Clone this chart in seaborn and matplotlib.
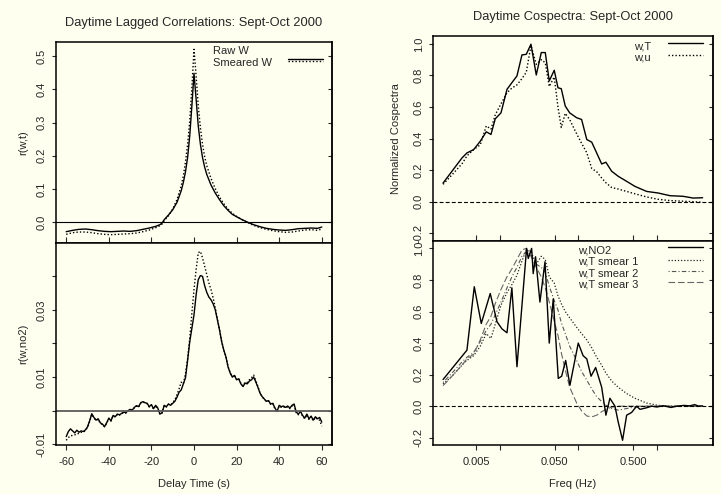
import numpy as np
import pandas as pd
import matplotlib
matplotlib.use("Agg")
import matplotlib.pyplot as plt
import seaborn as sns

# ---------------- data ----------------
# Top-left: lagged correlation r(w,t)
lag_t = [-60, -57, -54, -51, -48, -45, -42, -39, -36, -33, -30, -27, -24, -21, -18, -16, -15,
         -14, -12, -10, -8, -6, -5, -4, -3, -2, -1, 0, 1, 2, 3, 4, 5, 6, 8, 10, 12, 14, 16, 18,
         20, 22, 25, 28, 31, 34, 37, 40, 43, 46, 49, 52, 55, 58, 60]
raw_wt = [-0.028, -0.024, -0.021, -0.020, -0.022, -0.025, -0.027, -0.028, -0.027, -0.026, -0.027,
          -0.025, -0.021, -0.017, -0.012, -0.007, -0.002, 0.008, 0.022, 0.038, 0.060, 0.095, 0.120,
          0.152, 0.195, 0.260, 0.350, 0.448, 0.370, 0.290, 0.235, 0.195, 0.166, 0.144, 0.112, 0.088,
          0.068, 0.050, 0.036, 0.024, 0.017, 0.010, 0.001, -0.007, -0.013, -0.018, -0.021, -0.023,
          -0.024, -0.022, -0.019, -0.018, -0.017, -0.018, -0.014]
smear_wt = [-0.036, -0.031, -0.029, -0.029, -0.031, -0.034, -0.036, -0.037, -0.036, -0.035, -0.034,
            -0.032, -0.028, -0.023, -0.016, -0.010, -0.005, 0.005, 0.020, 0.040, 0.068, 0.110, 0.140,
            0.182, 0.235, 0.305, 0.405, 0.520, 0.440, 0.350, 0.285, 0.235, 0.197, 0.170, 0.132, 0.101,
            0.076, 0.056, 0.040, 0.027, 0.018, 0.010, 0.000, -0.009, -0.016, -0.021, -0.025, -0.028,
            -0.030, -0.029, -0.026, -0.023, -0.022, -0.024, -0.020]

# Bottom-left: lagged correlation r(w,no2), lags -60..60 s
lag_n = list(range(-60, 61))
raw_no2 = [-0.0077, -0.0062, -0.0054, -0.0060, -0.0066, -0.0058, -0.0064, -0.0060, -0.0062, -0.0057,
           -0.0048, -0.0030, -0.0009, -0.0020, -0.0028, -0.0024, -0.0036, -0.0040, -0.0047, -0.0036,
           -0.0022, -0.0030, -0.0014, -0.0018, -0.0010, -0.0012, -0.0008, -0.0004, -0.0006, 0.0000,
           0.0004, 0.0002, 0.0010, 0.0015, 0.0012, 0.0024, 0.0027, 0.0024, 0.0022, 0.0012,
           0.0018, 0.0006, 0.0016, 0.0008, -0.0010, -0.0006, 0.0016, 0.0012, 0.0020, 0.0016,
           0.0022, 0.0028, 0.0040, 0.0055, 0.0062, 0.0080, 0.0098, 0.0150, 0.0205, 0.0245,
           0.0285, 0.0345, 0.0390, 0.0402, 0.0400, 0.0372, 0.0352, 0.0338, 0.0330, 0.0318,
           0.0300, 0.0270, 0.0240, 0.0205, 0.0180, 0.0160, 0.0130, 0.0112, 0.0100, 0.0105,
           0.0092, 0.0095, 0.0080, 0.0072, 0.0082, 0.0080, 0.0088, 0.0092, 0.0100, 0.0086,
           0.0070, 0.0052, 0.0042, 0.0035, 0.0028, 0.0030, 0.0020, 0.0022, 0.0008, -0.0002,
           0.0016, 0.0012, 0.0014, 0.0010, 0.0014, 0.0008, 0.0016, 0.0020, -0.0004, -0.0010,
           -0.0002, -0.0014, -0.0022, -0.0010, -0.0024, -0.0016, -0.0028, -0.0018, -0.0024, -0.0020,
           -0.0034]
smear_no2 = [-0.0088, -0.0080, -0.0074, -0.0074, -0.0072, -0.0068, -0.0068, -0.0064, -0.0064, -0.0059,
             -0.0050, -0.0032, -0.0011, -0.0021, -0.0029, -0.0025, -0.0037, -0.0041, -0.0048, -0.0037,
             -0.0023, -0.0031, -0.0015, -0.0019, -0.0011, -0.0013, -0.0009, -0.0005, -0.0007, -0.0001,
             0.0003, 0.0001, 0.0009, 0.0014, 0.0011, 0.0023, 0.0026, 0.0023, 0.0021, 0.0011,
             0.0017, 0.0005, 0.0015, 0.0007, -0.0011, -0.0007, 0.0015, 0.0011, 0.0019, 0.0017,
             0.0024, 0.0032, 0.0048, 0.0065, 0.0085, 0.0080, 0.0110, 0.0155, 0.0215, 0.0290,
             0.0360, 0.0420, 0.0470, 0.0474, 0.0455, 0.0430, 0.0405, 0.0380, 0.0360, 0.0335,
             0.0305, 0.0272, 0.0241, 0.0206, 0.0181, 0.0161, 0.0131, 0.0113, 0.0101, 0.0106,
             0.0093, 0.0096, 0.0081, 0.0074, 0.0085, 0.0084, 0.0092, 0.0098, 0.0106, 0.0090,
             0.0072, 0.0053, 0.0042, 0.0034, 0.0027, 0.0029, 0.0019, 0.0021, 0.0006, -0.0004,
             0.0014, 0.0010, 0.0012, 0.0008, 0.0012, 0.0006, 0.0014, 0.0018, -0.0006, -0.0012,
             -0.0004, -0.0016, -0.0024, -0.0012, -0.0026, -0.0018, -0.0030, -0.0020, -0.0026, -0.0028,
             -0.0046]

# Top-right: normalized cospectra
freq_top = [0.00191, 0.00248, 0.00332, 0.00384, 0.00467, 0.00567, 0.00676, 0.00776, 0.00879, 0.0104,
            0.0124, 0.0143, 0.0166, 0.0192, 0.0218, 0.0250, 0.0292, 0.0338, 0.0380, 0.0427,
            0.0494, 0.0551, 0.0607, 0.0682, 0.0776, 0.0952, 0.110, 0.128, 0.148, 0.171,
            0.198, 0.224, 0.265, 0.321, 0.411, 0.524, 0.738, 1.036, 1.458, 2.15, 2.88, 3.80]
cosp_wT = [0.118, 0.193, 0.277, 0.309, 0.330, 0.383, 0.443, 0.426, 0.525, 0.563,
           0.712, 0.754, 0.797, 0.930, 0.934, 0.998, 0.803, 0.945, 0.945, 0.765,
           0.833, 0.722, 0.716, 0.606, 0.563, 0.532, 0.521, 0.394, 0.377, 0.309,
           0.239, 0.250, 0.193, 0.161, 0.129, 0.097, 0.065, 0.055, 0.038, 0.034, 0.023, 0.025]
cosp_wu = [0.110, 0.170, 0.240, 0.290, 0.330, 0.360, 0.480, 0.460, 0.550, 0.620,
           0.690, 0.720, 0.740, 0.780, 0.820, 0.990, 0.870, 0.900, 0.880, 0.730,
           0.790, 0.600, 0.470, 0.560, 0.520, 0.430, 0.370, 0.310, 0.210, 0.190,
           0.150, 0.120, 0.090, 0.080, 0.065, 0.050, 0.030, 0.015, 0.007, 0.003, 0.000, -0.004]

# Bottom-right: w,NO2 cospectrum and smeared w,T cospectra
freq_no2 = [0.00191, 0.00384, 0.00476, 0.00584, 0.00759, 0.00926, 0.0107, 0.0124, 0.0143, 0.0166,
            0.0220, 0.0231, 0.0255, 0.0267, 0.0286, 0.0325, 0.0377, 0.0427, 0.0480, 0.0556,
            0.0614, 0.0690, 0.0782, 0.0998, 0.115, 0.128, 0.145, 0.166, 0.198, 0.224,
            0.252, 0.292, 0.321, 0.365, 0.411, 0.475, 0.551, 0.607, 0.738, 0.85, 1.0,
            1.2, 1.5, 1.8, 2.2, 2.6, 3.0, 3.4, 3.8]
cosp_no2 = [0.169, 0.355, 0.757, 0.524, 0.714, 0.535, 0.490, 0.465, 0.750, 0.250,
            1.000, 0.936, 1.000, 0.840, 0.947, 0.660, 0.915, 0.400, 0.680, 0.176,
            0.190, 0.290, 0.133, 0.400, 0.320, 0.300, 0.190, 0.245, 0.120, -0.057,
            0.050, 0.000, -0.100, -0.216, -0.057, -0.040, 0.000, -0.020, -0.010, 0.000, -0.005,
            0.003, -0.008, 0.000, 0.005, 0.002, 0.010, 0.000, 0.002]
cosp_smear1 = [0.140, 0.190, 0.260, 0.290, 0.320, 0.380, 0.460, 0.430, 0.520, 0.640,
               0.720, 0.770, 0.830, 0.920, 0.990, 0.980, 0.900, 0.950, 0.930, 0.820,
               0.780, 0.700, 0.650, 0.600, 0.560, 0.500, 0.460, 0.420, 0.370, 0.310,
               0.260, 0.210, 0.160, 0.120, 0.080, 0.050, 0.020, 0.005, 0.000, 0.000, 0.000, 0.000]
cosp_smear2 = [0.150, 0.210, 0.280, 0.310, 0.340, 0.410, 0.480, 0.520, 0.580, 0.660,
               0.750, 0.820, 0.880, 0.950, 0.980, 0.960, 0.900, 0.880, 0.850, 0.760,
               0.670, 0.610, 0.530, 0.460, 0.380, 0.290, 0.220, 0.165, 0.110, 0.060,
               0.030, 0.006, -0.015, -0.025, -0.015, -0.005, 0.000, 0.000, 0.000, 0.000, 0.000, 0.000]
cosp_smear3 = [0.130, 0.190, 0.260, 0.300, 0.330, 0.420, 0.520, 0.570, 0.650, 0.740,
               0.820, 0.870, 0.930, 0.990, 1.000, 0.950, 0.880, 0.820, 0.750, 0.660,
               0.540, 0.450, 0.340, 0.230, 0.120, 0.020, -0.030, -0.062, -0.068, -0.057,
               -0.035, -0.020, -0.006, 0.000, 0.000, 0.000, 0.000, 0.000, 0.000, 0.000, 0.000, 0.000]

# ---------------- style ----------------
sns.set_style("ticks")
plt.rcParams['font.family'] = ['Liberation Sans', 'DejaVu Sans']
plt.rcParams['font.size'] = 8
BG = '#FFFFF0'
plt.rcParams['axes.facecolor'] = BG
plt.rcParams['figure.facecolor'] = BG

W, H = 721, 494
fig = plt.figure(figsize=(W / 100, H / 100), dpi=100)


def add_ax(x0, y0, x1, y1):
    return fig.add_axes([x0 / W, 1 - y1 / H, (x1 - x0) / W, (y1 - y0) / H])


ax_tl = add_ax(56, 42, 332, 243)
ax_bl = add_ax(56, 243, 332, 445)
ax_tr = add_ax(432.7, 36, 712.7, 240.5)
ax_br = add_ax(432.7, 240.5, 712.7, 445)

DOT = (0, (1, 1.5))
DASHDOT = (0, (1, 2, 4, 2))
LONGDASH = (0, (6, 2.5))
ZDASH = (0, (3.5, 2))


def line(ax, x, y, **kw):
    df = pd.DataFrame({'x': x, 'y': y})
    sns.lineplot(data=df, x='x', y='y', ax=ax, estimator=None, sort=False, legend=False, **kw)


# top-left
line(ax_tl, lag_t, raw_wt, color='black', lw=1.0)
line(ax_tl, lag_t, smear_wt, color='black', lw=1.0, linestyle=DOT)
ax_tl.axhline(0, color='black', lw=0.8)
# bottom-left
line(ax_bl, lag_n, smear_no2, color='black', lw=1.0, linestyle=DOT)
line(ax_bl, lag_n, raw_no2, color='black', lw=1.0)
ax_bl.axhline(0, color='#5a5a5a', lw=1.3)
# top-right
line(ax_tr, freq_top, cosp_wT, color='black', lw=1.0)
line(ax_tr, freq_top, cosp_wu, color='black', lw=1.0, linestyle=DOT)
ax_tr.axhline(0, color='black', lw=0.8, linestyle=ZDASH)
# bottom-right
line(ax_br, freq_top, cosp_smear1, color='#222222', lw=0.9, linestyle=DOT)
line(ax_br, freq_top, cosp_smear2, color='#555555', lw=0.8, linestyle=DASHDOT)
line(ax_br, freq_top, cosp_smear3, color='#666666', lw=0.8, linestyle=LONGDASH)
line(ax_br, freq_no2, cosp_no2, color='black', lw=1.0)
ax_br.axhline(0, color='black', lw=0.8, linestyle=ZDASH)

# limits & scales
for ax in (ax_tl, ax_bl):
    ax.set_xlim(-64.8, 64.8)
    ax.set_xticks([-60, -40, -20, 0, 20, 40, 60])
ax_tl.set_ylim(-0.062, 0.542)
ax_bl.set_ylim(-0.0102, 0.0499)
for ax in (ax_tr, ax_br):
    ax.set_xscale('log')
    ax.set_xlim(0.00141, 5.1)
    ax.set_ylim(-0.246, 1.05)
    ax.set_xticks([0.005, 0.01, 0.05, 0.1, 0.5, 1.0])
    ax.minorticks_off()

ax_tl.set_yticks([0.0, 0.1, 0.2, 0.3, 0.4, 0.5])
ax_tl.set_yticklabels(['0.0', '0.1', '0.2', '0.3', '0.4', '0.5'])
bl_ticks = [-0.01, 0.0, 0.01, 0.02, 0.03, 0.04]
ax_bl.set_yticks(bl_ticks)
ax_bl.set_yticklabels(['-0.01', '', '0.01', '', '0.03', ''])
r_ticks = [-0.2, 0.0, 0.2, 0.4, 0.6, 0.8, 1.0]
r_labels = ['-0.2', '0.0', '0.2', '0.4', '0.6', '0.8', '1.0']
for ax in (ax_tr, ax_br):
    ax.set_yticks(r_ticks)
    ax.set_yticklabels(r_labels)
ax_bl.set_xticklabels(['-60', '-40', '-20', '0', '20', '40', '60'])
ax_br.set_xticklabels(['0.005', '', '0.050', '', '0.500', ''])
ax_br.minorticks_off()

for ax in (ax_tl, ax_bl, ax_tr, ax_br):
    for s in ax.spines.values():
        s.set_linewidth(1.1)
        s.set_color('black')
    ax.tick_params(axis='y', direction='out', length=3, width=0.8, pad=3.5, labelsize=8)
    for lab in ax.get_yticklabels():
        lab.set_rotation(90)
        lab.set_va('center')
    sec = ax.secondary_yaxis('right')
    sec.set_yticks(ax.get_yticks())
    sec.tick_params(axis='y', direction='in', length=3, width=0.8, labelright=False)
    sec.spines['right'].set_linewidth(1.1)
    ax.set_xlabel('')
    ax.set_ylabel('')

for ax in (ax_tl, ax_tr):
    ax.tick_params(axis='x', direction='inout', length=8, width=0.8, labelbottom=False)
for ax in (ax_bl, ax_br):
    ax.tick_params(axis='x', direction='out', length=3.5, width=0.8, pad=5, labelsize=8)

ax_tl.set_ylabel('r(w,t)', fontsize=8, labelpad=6)
ax_bl.set_ylabel('r(w,no2)', fontsize=8, labelpad=6)
ax_tr.set_ylabel('Normalized Cospectra', fontsize=8, labelpad=9)
ax_bl.set_xlabel('Delay Time (s)', fontsize=8, labelpad=9)
ax_br.set_xlabel('Freq (Hz)', fontsize=8, labelpad=9)

ax_tl.set_title('Daytime Lagged Correlations: Sept-Oct 2000', fontsize=9.3, pad=11.5)
ax_tr.set_title('Daytime Cospectra: Sept-Oct 2000', fontsize=9.3, pad=11.5)


# legends (drawn manually: left-aligned labels, line samples on the right)
def legend_item(ax, tx, ty, label, lx0, lx1, ly, **kw):
    ax.text(tx, ty, label, transform=ax.transAxes, fontsize=8, va='center', ha='left')
    ax.plot([lx0, lx1], [ly, ly], transform=ax.transAxes, **kw)


legend_item(ax_tl, 0.569, 0.953, 'Raw W', 0.841, 0.967, 0.917, color='black', lw=1.0)
legend_item(ax_tl, 0.569, 0.896, 'Smeared W', 0.841, 0.967, 0.905, color='black', lw=1.0, linestyle=DOT)

legend_item(ax_tr, 0.719, 0.951, 'w,T', 0.840, 0.964, 0.964, color='black', lw=1.0)
legend_item(ax_tr, 0.719, 0.894, 'w,u', 0.840, 0.964, 0.907, color='black', lw=1.0, linestyle=DOT)

legend_item(ax_br, 0.519, 0.950, 'w,NO2', 0.840, 0.965, 0.967, color='black', lw=1.0)
legend_item(ax_br, 0.519, 0.895, 'w,T smear 1', 0.840, 0.965, 0.905, color='#222222', lw=0.9, linestyle=DOT)
legend_item(ax_br, 0.519, 0.840, 'w,T smear 2', 0.840, 0.965, 0.852, color='#555555', lw=0.8, linestyle=DASHDOT)
legend_item(ax_br, 0.519, 0.786, 'w,T smear 3', 0.840, 0.965, 0.796, color='#666666', lw=0.8, linestyle=LONGDASH)

fig.savefig('out.png', dpi=100, facecolor=BG)
